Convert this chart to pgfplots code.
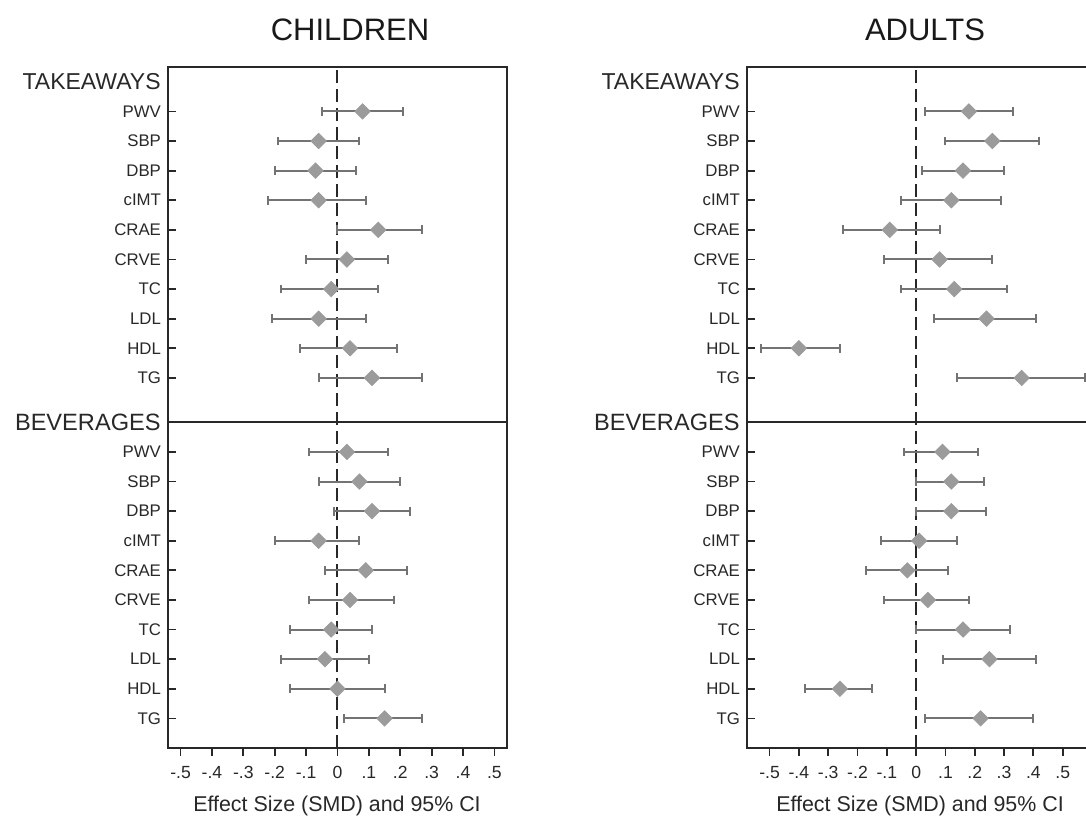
\documentclass[border=0pt]{standalone}
\usepackage{pgfplots}
\pgfplotsset{compat=1.18}
\usepackage{pgfplotstable}
\usepackage{fontspec}
\setmainfont{Liberation Sans}

\definecolor{barc}{RGB}{115,115,115}
\definecolor{dia}{RGB}{155,155,155}
\definecolor{axc}{RGB}{40,40,40}

\pgfplotstableread{
y est lo hi
21.5 0.08 -0.05 0.21
20.5 -0.06 -0.19 0.07
19.5 -0.07 -0.20 0.06
18.5 -0.06 -0.22 0.09
17.5 0.13 0.00 0.27
16.5 0.03 -0.10 0.16
15.5 -0.02 -0.18 0.13
14.5 -0.06 -0.21 0.09
13.5 0.04 -0.12 0.19
12.5 0.11 -0.06 0.27
10 0.03 -0.09 0.16
9 0.07 -0.06 0.20
8 0.11 -0.01 0.23
7 -0.06 -0.20 0.07
6 0.09 -0.04 0.22
5 0.04 -0.09 0.18
4 -0.02 -0.15 0.11
3 -0.04 -0.18 0.10
2 0.00 -0.15 0.15
1 0.15 0.02 0.27
}\childdata

\pgfplotstableread{
y est lo hi
21.5 0.18 0.03 0.33
20.5 0.26 0.10 0.42
19.5 0.16 0.02 0.30
18.5 0.12 -0.05 0.29
17.5 -0.09 -0.25 0.08
16.5 0.08 -0.11 0.26
15.5 0.13 -0.05 0.31
14.5 0.24 0.06 0.41
13.5 -0.40 -0.53 -0.26
12.5 0.36 0.14 0.575
10 0.09 -0.04 0.21
9 0.12 0.00 0.23
8 0.12 0.00 0.24
7 0.01 -0.12 0.14
6 -0.03 -0.17 0.11
5 0.04 -0.11 0.18
4 0.16 0.00 0.32
3 0.25 0.09 0.41
2 -0.26 -0.38 -0.15
1 0.22 0.03 0.40
}\adultdata

\pgfplotsset{
  forest/.style={
    scale only axis,
    height=340.5pt,
    ymin=0, ymax=23,
    axis line style={axc, line width=0.9pt},
    ytick={21.5,20.5,19.5,18.5,17.5,16.5,15.5,14.5,13.5,12.5,10,9,8,7,6,5,4,3,2,1},
    yticklabels={PWV,SBP,DBP,cIMT,CRAE,CRVE,TC,LDL,HDL,TG,PWV,SBP,DBP,cIMT,CRAE,CRVE,TC,LDL,HDL,TG},
    xtick={-0.5,-0.4,-0.3,-0.2,-0.1,0,0.1,0.2,0.3,0.4,0.5},
    xticklabels={-.5,-.4,-.3,-.2,-.1,0,.1,.2,.3,.4,.5},
    ytick pos=left, xtick pos=bottom,
    ytick align=inside, xtick align=outside,
    major tick length=4pt,
    tick style={axc, line width=0.9pt},
    yticklabel style={font=\fontsize{8.4}{10}\selectfont, text=axc},
    xticklabel style={font=\fontsize{8.8}{10}\selectfont, text=axc, yshift=-1.5pt},
    clip=false,
  },
  fp/.style={
    only marks, mark=square*, mark size=2.7pt,
    mark options={rotate=45, fill=dia, draw=dia},
    error bars/.cd, x dir=both, x explicit,
    error mark=|,
    error bar style={barc, line width=1pt},
    error mark options={barc, line width=1pt, mark size=2.2pt},
  },
}

\begin{document}
\begin{tikzpicture}
\useasboundingbox (0,0) rectangle (543pt,-407.5pt);

\node[anchor=base, font=\fontsize{15.5}{18}\selectfont, text=black!90] at (175pt,-20pt) {CHILDREN};
\node[anchor=base, font=\fontsize{15.5}{18}\selectfont, text=black!90] at (462.5pt,-20pt) {ADULTS};

\begin{axis}[forest, at={(84pt,-33.5pt)}, anchor=north west, width=169.5pt,
  xmin=-0.54, xmax=0.54]
  \draw[axc, line width=1pt, dash pattern=on 6.5pt off 3pt] (axis cs:0,0) -- (axis cs:0,23);
  \draw[axc, line width=0.9pt] (axis cs:-0.54,11) -- (axis cs:0.54,11);
  \addplot[fp] table[x=est, y=y,
    x error plus expr=\thisrow{hi}-\thisrow{est},
    x error minus expr=\thisrow{est}-\thisrow{lo}] {\childdata};
  \node[anchor=east, font=\fontsize{11.5}{13}\selectfont, text=axc, inner sep=0pt] at ([xshift=-3.5pt]axis description cs:0,0.9783) {TAKEAWAYS};
  \node[anchor=east, font=\fontsize{11.8}{13}\selectfont, text=axc, inner sep=0pt] at ([xshift=-3.5pt]axis description cs:0,0.4783) {BEVERAGES};
\end{axis}

\begin{axis}[forest, at={(373.5pt,-33.5pt)}, anchor=north west, width=172.5pt,
  xmin=-0.577, xmax=0.6]
  \draw[axc, line width=1pt, dash pattern=on 6.5pt off 3pt] (axis cs:0,0) -- (axis cs:0,23);
  \draw[axc, line width=0.9pt] (axis cs:-0.577,11) -- (axis cs:0.6,11);
  \addplot[fp] table[x=est, y=y,
    x error plus expr=\thisrow{hi}-\thisrow{est},
    x error minus expr=\thisrow{est}-\thisrow{lo}] {\adultdata};
  \node[anchor=east, font=\fontsize{11.5}{13}\selectfont, text=axc, inner sep=0pt] at ([xshift=-3.5pt]axis description cs:0,0.9783) {TAKEAWAYS};
  \node[anchor=east, font=\fontsize{11.8}{13}\selectfont, text=axc, inner sep=0pt] at ([xshift=-3.5pt]axis description cs:0,0.4783) {BEVERAGES};
\end{axis}

\node[anchor=base, font=\fontsize{10.7}{13}\selectfont, text=axc] at (168.5pt,-405.5pt) {Effect Size (SMD) and 95\% CI};
\node[anchor=base, font=\fontsize{10.7}{13}\selectfont, text=axc] at (460pt,-405.5pt) {Effect Size (SMD) and 95\% CI};
\end{tikzpicture}
\end{document}
